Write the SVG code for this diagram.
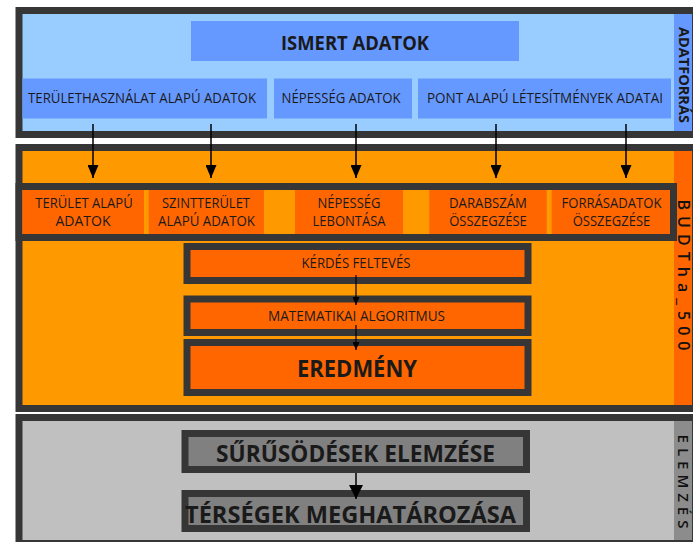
<svg xmlns="http://www.w3.org/2000/svg" width="693" height="542" viewBox="0 0 693 542">
<defs>
<style>
.frame{stroke:#363636;stroke-width:7}
.t{font-family:"Open Sans","Liberation Sans",sans-serif;fill:#1a1a1a;text-anchor:middle}
.r13{font-size:14px}
.b{font-weight:700}
.side{font-weight:600;fill:#111}
.conn{stroke:#000;stroke-width:1.5;fill:none}
.conn-s{stroke:#000;stroke-width:1.2;fill:none}
.blue{fill:#6699FF}
.orng{fill:#FF6600}
</style>
<marker id="ah-big" markerUnits="userSpaceOnUse" markerWidth="13" markerHeight="11" refX="13" refY="5.5" orient="auto" viewBox="0 0 13 11"><path d="M0,0L13,5.5L0,11z" fill="#000"/></marker>
<marker id="ah-small" markerUnits="userSpaceOnUse" markerWidth="8" markerHeight="7" refX="8" refY="3.5" orient="auto" viewBox="0 0 8 7"><path d="M0,0L8,3.5L0,7z" fill="#000"/></marker>
<marker id="ah-mid" markerUnits="userSpaceOnUse" markerWidth="14" markerHeight="14" refX="14" refY="7" orient="auto" viewBox="0 0 14 14"><path d="M0,0L14,7L0,14z" fill="#000"/></marker>
</defs>
<rect width="693" height="542" fill="#fff"/>

<!-- ADATFORRÁS section -->
<g id="adatforras">
<rect class="frame" x="19" y="10.5" width="676.5" height="124" fill="#99CCFF"/>
<rect class="blue" x="674" y="14" width="18" height="117"/>
<text class="t b" font-size="14.5" transform="translate(678.5,75) rotate(90)" textLength="96" lengthAdjust="spacingAndGlyphs">ADATFORRÁS</text>
</g>
<g id="ismert-adatok">
<rect class="blue" x="191" y="21" width="328" height="40"/>
<text class="t b" x="355" y="49.5" font-size="19.5" textLength="148" lengthAdjust="spacingAndGlyphs">ISMERT ADATOK</text>
</g>
<g id="teruelethasznalat">
<rect class="blue" x="22.5" y="78.5" width="244.5" height="40"/>
<text class="t r13" x="142" y="102.5" textLength="228" lengthAdjust="spacingAndGlyphs">TERÜLETHASZNÁLAT ALAPÚ ADATOK</text>
</g>
<g id="nepesseg-adatok">
<rect class="blue" x="274" y="78.5" width="138" height="40"/>
<text class="t r13" x="341" y="102.5" textLength="119" lengthAdjust="spacingAndGlyphs">NÉPESSÉG ADATOK</text>
</g>
<g id="pont-alapu">
<rect class="blue" x="418" y="78.5" width="253" height="40"/>
<text class="t r13" x="545" y="102.5" textLength="236" lengthAdjust="spacingAndGlyphs">PONT ALAPÚ LÉTESÍTMÉNYEK ADATAI</text>
</g>

<!-- BUDTha_500 section -->
<g id="budtha">
<rect class="frame" x="19" y="147.5" width="676.5" height="261" fill="#FF9900"/>
<rect class="orng" x="674" y="151" width="18" height="254"/>
<text class="t side" font-size="16" letter-spacing="6" transform="translate(677.5,278) rotate(90)">BUDTha_500</text>
</g>
<g id="feldolgozas-sor">
<rect class="frame" x="19" y="186.5" width="654.5" height="51" fill="#FF9900"/>
</g>
<g id="terulet-alapu">
<rect class="orng" x="22.5" y="190" width="121.5" height="44"/>
<text class="t r13" x="84" y="207.5" textLength="97.5" lengthAdjust="spacingAndGlyphs">TERÜLET ALAPÚ</text>
<text class="t r13" x="83" y="225.5" textLength="55" lengthAdjust="spacingAndGlyphs">ADATOK</text>
</g>
<g id="szintterulet">
<rect class="orng" x="148.7" y="190" width="115.3" height="44"/>
<text class="t r13" x="206" y="207.5" textLength="88" lengthAdjust="spacingAndGlyphs">SZINTTERÜLET</text>
<text class="t r13" x="206.5" y="225.5" textLength="97" lengthAdjust="spacingAndGlyphs">ALAPÚ ADATOK</text>
</g>
<g id="nepesseg-lebontasa">
<rect class="orng" x="295" y="190" width="108" height="44"/>
<text class="t r13" x="349" y="207.5" textLength="63" lengthAdjust="spacingAndGlyphs">NÉPESSÉG</text>
<text class="t r13" x="349" y="225.5" textLength="73" lengthAdjust="spacingAndGlyphs">LEBONTÁSA</text>
</g>
<g id="darabszam">
<rect class="orng" x="429.3" y="190" width="117.4" height="44"/>
<text class="t r13" x="488" y="207.5" textLength="78" lengthAdjust="spacingAndGlyphs">DARABSZÁM</text>
<text class="t r13" x="488" y="225.5" textLength="77.5" lengthAdjust="spacingAndGlyphs">ÖSSZEGZÉSE</text>
</g>
<g id="forrasadatok">
<rect class="orng" x="551.7" y="190" width="118.3" height="44"/>
<text class="t r13" x="611.5" y="207.5" textLength="100" lengthAdjust="spacingAndGlyphs">FORRÁSADATOK</text>
<text class="t r13" x="611.5" y="225.5" textLength="77.5" lengthAdjust="spacingAndGlyphs">ÖSSZEGZÉSE</text>
</g>
<g id="kerdes">
<rect class="frame orng" x="187" y="246.5" width="341" height="34"/>
<text class="t r13" x="356" y="268" textLength="109" lengthAdjust="spacingAndGlyphs">KÉRDÉS FELTEVÉS</text>
</g>
<g id="matematikai">
<rect class="frame orng" x="187" y="299" width="341" height="33.5"/>
<text class="t r13" x="356.5" y="321" textLength="177" lengthAdjust="spacingAndGlyphs">MATEMATIKAI ALGORITMUS</text>
</g>
<g id="eredmeny">
<rect class="frame orng" x="187" y="342.5" width="341" height="50"/>
<text class="t b" x="357" y="376.5" font-size="23" textLength="120" lengthAdjust="spacingAndGlyphs">EREDMÉNY</text>
</g>

<!-- ELEMZÉS section -->
<g id="elemzes">
<rect class="frame" x="19" y="417.5" width="676.5" height="126" fill="#C0C0C0"/>
<rect x="674" y="421" width="18" height="119" fill="#8C8C8C"/>
<text class="t side" font-size="15" letter-spacing="5" transform="translate(677.5,484) rotate(90)">ELEMZÉS</text>
</g>
<g id="surusodesek">
<rect class="frame" x="185" y="433.5" width="341.5" height="36" fill="#808080"/>
<text class="t b" x="355.5" y="461.5" font-size="23.5" textLength="279" lengthAdjust="spacingAndGlyphs">SŰRŰSÖDÉSEK ELEMZÉSE</text>
</g>
<g id="tersegek">
<rect class="frame" x="185" y="493.5" width="341.5" height="35" fill="#808080"/>
<text class="t b" x="350.5" y="522.5" font-size="23.5" textLength="331" lengthAdjust="spacingAndGlyphs">TÉRSÉGEK MEGHATÁROZÁSA</text>
</g>

<!-- connectors -->
<g id="connectors">
<line class="conn" x1="93" y1="124" x2="93" y2="178" marker-end="url(#ah-big)"/>
<line class="conn" x1="211" y1="124" x2="211" y2="178" marker-end="url(#ah-big)"/>
<line class="conn" x1="356" y1="124" x2="356" y2="178" marker-end="url(#ah-big)"/>
<line class="conn" x1="496" y1="124" x2="496" y2="178" marker-end="url(#ah-big)"/>
<line class="conn" x1="626" y1="124" x2="626" y2="178" marker-end="url(#ah-big)"/>
<line class="conn-s" x1="356" y1="275" x2="356" y2="305" marker-end="url(#ah-small)"/>
<line class="conn-s" x1="356" y1="325" x2="356" y2="350" marker-end="url(#ah-small)"/>
<line class="conn" x1="356" y1="473" x2="356" y2="499" marker-end="url(#ah-mid)"/>
</g>
</svg>
